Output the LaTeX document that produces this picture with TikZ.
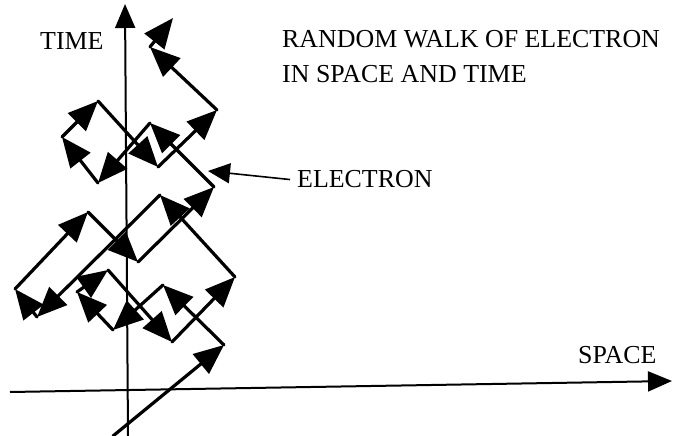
\documentclass[tikz,border=0pt]{standalone}
\usepackage{fontspec}
\setmainfont{Liberation Serif}
\usetikzlibrary{arrows.meta}
\tikzset{
  walk/.style={-{Triangle[length=30bp,width=25bp]}, line width=3.2bp, line cap=round},
  axis/.style={-{Triangle[length=24bp,width=20bp]}, line width=2bp},
  pointer/.style={-{Triangle[length=22bp,width=20bp]}, line width=1.6bp},
  caption/.style={anchor=base west, inner sep=0pt, font=\fontsize{26}{31}\selectfont}
}
\begin{document}
\begin{tikzpicture}[x=1bp,y=-1bp]
  \useasboundingbox (0,0) rectangle (683,436);
  % axes
  \coordinate (xstart) at (10,392);
  \coordinate (xend) at (672,381);
  \coordinate (tstart) at (128,436);
  \coordinate (tend) at (125,4);
  \draw[axis] (xstart) -- (xend);
  \draw[axis] (tstart) -- (tend);
  % corners of the walk
  \foreach \n/\x/\y in {0/113/436, 1/224/345, 2/163/285, 3/113/330, 4/77/292,
      5/108/270, 6/172/342, 7/235/277, 8/160/195, 9/37/317, 10/15/289,
      11/88/212, 12/138/262, 13/214/187, 14/150/123, 15/98/183, 16/62/137,
      17/98/101, 18/158/167, 19/217/110, 20/150/47, 21/173/18}
    \coordinate (p\n) at (\x,\y);
  \foreach \a [evaluate=\a as \b using int(\a+1)] in {0,...,20}
    \draw[walk] (p\a) -- (p\b);
  % labels
  \node[caption] (time) at (40,50) {TIME};
  \node[caption] (title1) at (282,48) {RANDOM WALK OF ELECTRON};
  \node[caption] (title2) at (282,83) {IN SPACE AND TIME};
  \node[caption] (electron) at (297,188) {ELECTRON};
  \node[caption] (space) at (578,363) {SPACE};
  \coordinate (ehit) at (208,171);
  \draw[pointer] ([xshift=-7bp]electron.west) -- (ehit);
\end{tikzpicture}
\end{document}
